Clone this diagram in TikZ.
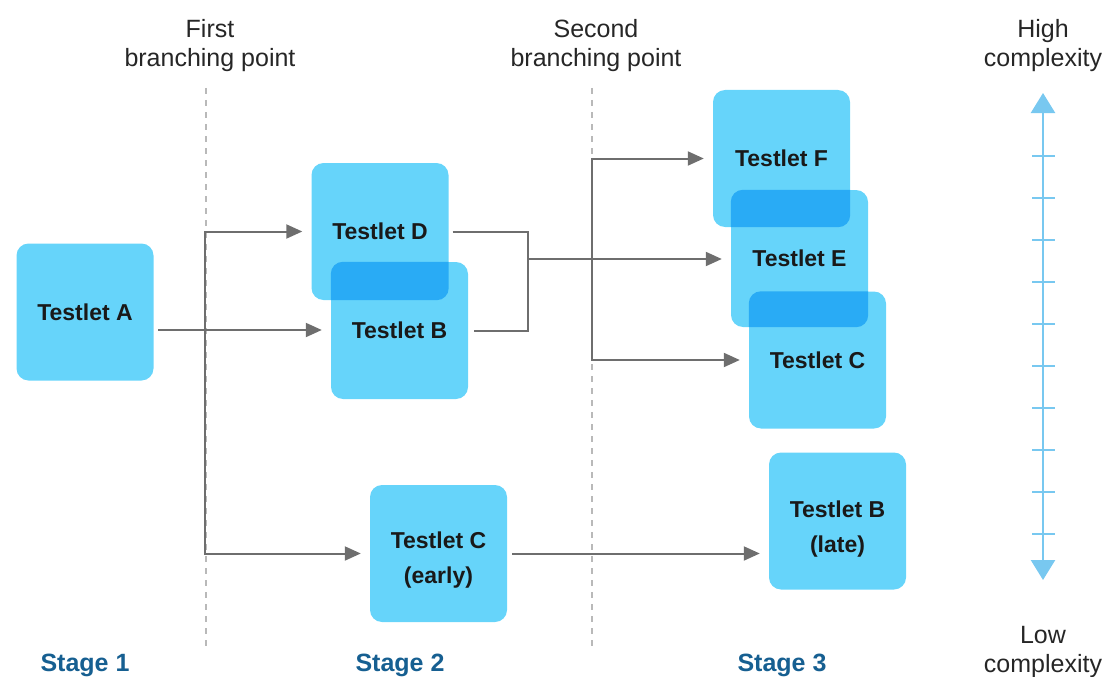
\documentclass[tikz,border=0pt]{standalone}
\usepackage{fontspec}
\setmainfont{Liberation Sans}
\usetikzlibrary{arrows.meta,calc}
\definecolor{boxlight}{RGB}{102,212,250}
\definecolor{boxdark}{RGB}{41,171,245}
\definecolor{conngray}{RGB}{110,110,110}
\definecolor{dashgray}{RGB}{185,185,185}
\definecolor{scaleblue}{RGB}{120,200,240}
\definecolor{stageblue}{RGB}{22,95,145}
\begin{document}
\begin{tikzpicture}[x=1pt,y=-1pt,
  testbox/.style={draw=none, fill=boxlight, rounded corners=12pt, minimum width=137pt, minimum height=137pt, inner sep=0pt, font=\fontsize{23}{35}\selectfont\bfseries, align=center, text=black!90},
  boxtext/.style={inner sep=0pt, font=\fontsize{23}{35}\selectfont\bfseries, align=center, text=black!90},
  conn/.style={draw=conngray, line width=2pt, -{Triangle[length=16pt,width=14pt]}, shorten >=9pt},
  plainline/.style={draw=conngray, line width=2pt},
  divider/.style={draw=dashgray, line width=1.2pt, dash pattern=on 6pt off 6pt},
  header/.style={font=\fontsize{25}{29}\selectfont, align=center, text=black!85},
  stagelab/.style={font=\fontsize{25}{29}\selectfont\bfseries, text=stageblue},
  axisline/.style={draw=scaleblue, line width=2.5pt},
  tick/.style={draw=scaleblue, line width=2pt}
]
\useasboundingbox (0,0) rectangle (1109,677);

% dividers
\coordinate (d1t) at (206,88); \coordinate (d1b) at (206,648);
\coordinate (d2t) at (592,88); \coordinate (d2b) at (592,648);
\draw[divider] (d1t) -- (d1b);
\draw[divider] (d2t) -- (d2b);

% boxes
\node[testbox] (A) at (85,312) {Testlet A};
\node[testbox] (D) at (380,231.5) {Testlet D};
\node[testbox] (B) at (399.5,330.5) {Testlet B};
\node[testbox] (Ce) at (438.5,553.5) {};
\node[boxtext] (Cet) at ([yshift=-7pt]Ce.center) {Testlet C\\(early)};
\node[testbox] (F) at (781.5,158.5) {Testlet F};
\node[testbox] (E) at (799.5,258.5) {Testlet E};
\node[testbox] (C3) at (817.5,360) {Testlet C};
\node[testbox] (Bl) at (837.5,521) {};
\node[boxtext] (Blt) at ([yshift=-8pt]Bl.center) {Testlet B\\(late)};

% overlaps
\begin{scope}
\clip[rounded corners=12pt] (D.south west) rectangle (D.north east);
\fill[boxdark, rounded corners=12pt] (B.south west) rectangle (B.north east);
\end{scope}
\begin{scope}
\clip[rounded corners=12pt] (F.south west) rectangle (F.north east);
\fill[boxdark, rounded corners=12pt] (E.south west) rectangle (E.north east);
\end{scope}
\begin{scope}
\clip[rounded corners=12pt] (E.south west) rectangle (E.north east);
\fill[boxdark, rounded corners=12pt] (C3.south west) rectangle (C3.north east);
\end{scope}

% connectors stage 1 -> 2
\coordinate (aout) at (158,330);
\coordinate (j1) at (205,330);
\draw[conn] (aout) -- (aout -| B.west);
\draw[conn] (j1) |- (D.west);
\draw[conn] (j1) |- (Ce.west);

% connectors stage 2 -> 3
\coordinate (j2) at (528,259);
\coordinate (j3) at (592,259);
\draw[plainline] ([xshift=4pt]D.east) -| (j2) |- ([xshift=6pt]B.east);
\draw[conn] (j2) -- (j2 -| E.west);
\draw[conn] (j3) |- (F.west);
\draw[conn] (j3) |- (C3.west);
\draw[conn] ([xshift=5pt]Ce.east) -- (Ce.east -| Bl.west);

% headers
\node[header] (h1) at (210,46) {First\\branching point};
\node[header] (h2) at (596,46) {Second\\branching point};
\node[header] (h3) at (1043,46) {High\\complexity};
\node[header] (h4) at (1043,652) {Low\\complexity};

% stage labels
\node[stagelab] (s1) at (85,665) {Stage 1};
\node[stagelab] (s2) at (400,665) {Stage 2};
\node[stagelab] (s3) at (782,665) {Stage 3};

% complexity axis
\coordinate (axtop) at (1043,93);
\coordinate (axbot) at (1043,580);
\draw[axisline, {Triangle[length=20pt,width=24pt]}-{Triangle[length=20pt,width=24pt]}] (axtop) -- (axbot);
\foreach \k in {0,...,9} {
  \draw[tick] (1032,156+42*\k) -- (1055,156+42*\k);
}
\end{tikzpicture}
\end{document}
